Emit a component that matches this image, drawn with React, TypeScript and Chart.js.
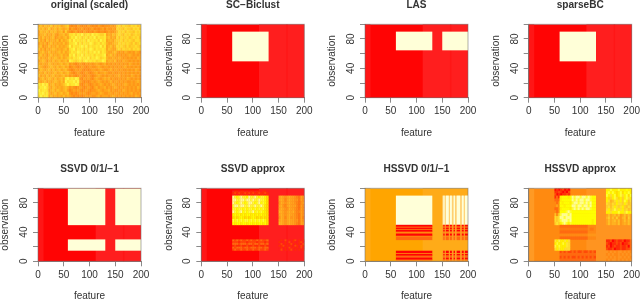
import React, { useEffect, useRef } from "react";
import { Chart, registerables } from "chart.js";

Chart.register(...registerables);

type Rect = [number, number, number, number, string];

const xTicks = [0, 50, 100, 150, 200];
const yTickLabels = [0, 40, 80];
const panelTitles = [
  "original (scaled)", "SC\u2212Biclust", "LAS", "sparseBC",
  "SSVD 0/1/\u22121", "SSVD approx", "HSSVD 0/1/\u22121", "HSSVD approx",
];

const palette: Record<string, string> = {
  "0": "#FF7810", "1": "#FF8814", "2": "#FF9618", "3": "#FFA41C", "4": "#FFB220",
  "5": "#FFC024", "6": "#FFCE28", "7": "#FFDC2C", "8": "#FFE830", "9": "#FFF440",
  r: "#FF0404", s: "#FF1616", t: "#FF1E1E", c: "#FFFFD8", o: "#FFA500", O: "#FFAB18",
  p: "#FFAA14", h: "#FFD070", W: "#FFFF90", y: "#FFFF00", Y: "#FFFF30", G: "#FFF000",
  g: "#FFDC00", a: "#FF4A08", b: "#FF2C08", d: "#FF6A10", e: "#FF8A10", E: "#FF9420",
  f: "#FF9A24",
};

const originalRows = [
  "453544635453456" + "212132121321213212" + "22323" + "675766576756",
  "545346345354345" + "132122312123121231" + "32232" + "766576657675",
  "354453545345263" + "212312132121321221" + "23223" + "576757665767",
  "344534353244534" + "778687967869787668" + "34354" + "676576756766",
  "435343452343453" + "687978678687968778" + "45343" + "757667567675",
  "534253443525345" + "869787786978786978" + "34435" + "667576765776",
  "343424534343534" + "778968687798678687" + "43345" + "576767657567",
  "452335343534345" + "968778979687787968" + "34534" + "767657566765",
  "534243454343453" + "789687868798687787" + "35433" + "675766757676",
  "345335343453534" + "687798778687979687" + "43345" + "323243232432",
  "453424534345343" + "879687968778687789" + "34534" + "232323432323",
  "534335345435345" + "768789787968798678" + "43343" + "343232323243",
  "345424353453453" + "987678689787867798" + "34435" + "232433232323",
  "434335434345345" + "232123213232343234" + "23232" + "323232432323",
  "543234543534534" + "123212321232234323" + "32323" + "232342323232",
  "354345353453453" + "212323212123323432" + "23423" + "323223232432",
  "443534345345345" + "321232123212342334" + "32232" + "232323232323",
  "534353453434534" + "232123212321234323" + "23323" + "342323243232",
  "3453454353453" + "8978798" + "2132321343234" + "34232" + "232324323232",
  "4345343454353" + "9788979" + "3212123234323" + "23423" + "323232232343",
  "87978" + "34534345" + "7978898" + "2123212323432" + "32343" + "232343232323",
  "78897" + "4354343454" + "232123212321342334" + "23234" + "323232323243",
  "97887" + "3453543453" + "123232123212234323" + "34232" + "232432323232",
  "88978" + "4345345345" + "212123232123323432" + "23323" + "323232342323",
  "79788" + "3534343534" + "321212123232234233" + "32343" + "232323232432",
];

const redBase: Rect[] = [
  [0, 200, 0, 100, "r"], [0, 10, 0, 100, "s"], [112, 200, 0, 100, "t"], [165, 167, 0, 100, "s"],
];
const orangeBase: Rect[] = [
  [0, 200, 0, 100, "o"], [0, 10, 0, 100, "O"], [112, 200, 0, 100, "O"],
];
const hssvdApproxBase: Rect[] = [
  [0, 200, 0, 100, "e"], [0, 10, 0, 100, "f"], [112, 200, 0, 100, "E"],
];

const scBlocks: Rect[] = [[60, 130, 50, 90, "c"]];
const lasBlocks: Rect[] = [[60, 130, 65, 90, "c"], [150, 200, 65, 90, "c"]];
const sparseBlocks: Rect[] = [[60, 130, 50, 90, "c"]];
const ssvdBlocks: Rect[] = [
  [58, 130, 50, 100, "c"], [150, 200, 50, 100, "c"], [58, 130, 15, 30, "c"], [150, 200, 15, 30, "c"],
];

const ssvdApproxMain = [
  "WYyYWYYyWYYWYyYYyg", "WWYYWWYWWYWYYWYYyg", "WYyYWYyYWWYyYWyYyg", "YWWYWWYYWYYWYYWYGg",
  "YYyYYyYyYYyYyYyYGg", "WYyYWyYyYYWyYyYyGg", "GyGyGyGyyGyGyGyGGg", "gGgGyGgGgGyGgGgGgg",
  "YyYyYyYYyYyYyYyYyg", "yGyyGyyGyyGyGyyGyg",
];
const ssvdApproxRight = [
  "3432343321032", "3431343322032", "2432343321023", "3421343331032", "3432243321032",
  "4432343421132", "3432343321032", "2431342321031", "3432343322032", "4432343321033",
];
const ssvdApproxLow = [
  "dadadaadadaadadaad", "aaabaaabaaaabaaaba", "dddadddaddaddaddad",
  "babbabbabbabbabbab", "dadddaddadddaddadd", "adaadaadaadaadaada",
];
const ssvdApproxLowRight = [
  "tbtatbtbatbtb", "bttbtatbttbat", "tatbtbatbtbta", "bbatbtbtabtab", "tbtbtatbtbtat", "tatbtbatbtbtb",
];
const ssvdApproxTop = ["tbbtbbtbtbbtbbtbbt", "bababbabababbabbab", "tbtbbtbbtbtbbtbbtb"];

const hssvdStripeRows: Rect[] = [
  [0, 0, 47.5, 50, "r"], [0, 0, 46, 47.5, "d"], [0, 0, 44.3, 46, "r"], [0, 0, 43, 44.3, "d"],
  [0, 0, 40.6, 43, "r"], [0, 0, 38, 40.6, "e"], [0, 0, 35, 38, "r"], [0, 0, 33.8, 35, "e"],
  [0, 0, 29.5, 33.8, "d"],
  [0, 0, 11, 14.5, "r"], [0, 0, 10, 11, "e"], [0, 0, 7.8, 10, "r"], [0, 0, 5, 7.8, "d"],
  [0, 0, 2.3, 5, "r"], [0, 0, 0, 2.3, "e"],
];
const hssvdOnColumns = [
  [152, 154], [157, 162], [165, 168], [172, 174], [178, 184], [188, 191], [194, 200],
];

const happroxTop = ["rbrbarbr", "bbabrbra", "arbrbbab"];
const happroxSide = ["bdb", "ddd", "ede", "e3e", "dde", "ede", "5e5", "767", "767", "686"];
const happroxMain = [
  "GyyyGyWYWWYWWYWYyy", "GyyyyyWYWYWWYWWYyy", "yGyyyGYWWYWWYWYWyy", "yyGyyyWWYWWYWWYWyy",
  "GyyyyGYWYWYWYWWYyy", "yyyYWYyyyyyyyyyyyy", "YWWWYWyyyyyyyyyyyy", "WWYWWWyyyyyyyyyyyy",
  "YWWWYWyyyyyyyyyyGy", "GYWYGYyyyyyyyyyyGy",
];
const happroxRightTop = [
  "GGYGGGYGGGyGG", "yYGYGgGYgyGYG", "YG7GYgGY7GYgY", "Gg6GY7gG6GY7G", "G7457G7G6YG57",
  "76576G776G756", "6757G767G6576", "7G67Y7G7G6756", "GG7GGGYGG7YGG",
];
const happroxRightMid = ["3534535235353", "4635363245263", "3534535235353", "3534435234353"];
const happroxMid = [
  "dddddddddddddd1111", "000000000000001001", "dddddddddddddd1111", "111111111111112222", "dddddddddddddd1111",
];
const happroxLow = [
  "adadaadadaadaadada", "dddddddddddddddddd", "adadadaadadadadada", "dddddddddddddddddd",
];
const happroxYellow = ["8G9GG8G7", "GYGGYG87", "9GYGGG87", "7G8GG777"];
const happroxRed = ["bbarbabbarbbd", "abrbbabarbbad", "barbabbabbard", "abbarbbabbaad"];
const happroxRightLow = ["E1E1E1EE1E1E1", "1E1E11E1E1E1E", "E1E1E1EE1E1E1", "1E1EE1E1E1E1E"];

function grid(x0: number, x1: number, y0: number, y1: number, rows: string[]): Rect[] {
  const out: Rect[] = [];
  const h = (y1 - y0) / rows.length;
  rows.forEach((row, i) => {
    const w = (x1 - x0) / row.length;
    for (let j = 0; j < row.length; j++) {
      out.push([x0 + j * w, x0 + (j + 1) * w, y1 - (i + 1) * h, y1 - i * h, row[j]]);
    }
  });
  return out;
}

function hssvdStripes(): Rect[] {
  const out: Rect[] = [[60, 130, 50, 90, "c"], [150, 200, 50, 90, "h"]];
  hssvdOnColumns.forEach(([a, b]) => out.push([a, b, 50, 90, "c"]));
  hssvdStripeRows.forEach(([, , lo, hi, c]) => {
    out.push([60, 130, lo, hi, c]);
    out.push([150, 200, lo, hi, "f"]);
    hssvdOnColumns.forEach(([a, b]) => out.push([a, b, lo, hi, c]));
  });
  return out;
}

const panelCells: Rect[][] = [
  grid(0, 200, 0, 100, originalRows),
  [...redBase, ...scBlocks],
  [...redBase, ...lasBlocks],
  [...redBase, ...sparseBlocks],
  [...redBase, ...ssvdBlocks],
  [
    ...redBase,
    ...grid(60, 130, 90, 97, ssvdApproxTop),
    ...grid(60, 130, 50, 90, ssvdApproxMain),
    ...grid(150, 200, 50, 90, ssvdApproxRight),
    ...grid(60, 130, 15, 30, ssvdApproxLow),
    ...grid(150, 200, 15, 30, ssvdApproxLowRight),
  ],
  [...orangeBase, ...hssvdStripes()],
  [
    ...hssvdApproxBase,
    ...grid(50, 80, 90, 100, happroxTop),
    ...grid(50, 60, 50, 90, happroxSide),
    ...grid(60, 130, 50, 90, happroxMain),
    ...grid(150, 200, 65, 100, happroxRightTop),
    ...grid(150, 200, 50, 65, happroxRightMid),
    ...grid(60, 130, 30, 50, happroxMid),
    ...grid(60, 130, 0, 15, happroxLow),
    ...grid(50, 80, 15, 30, happroxYellow),
    ...grid(150, 200, 15, 30, happroxRed),
    ...grid(150, 200, 0, 15, happroxRightLow),
  ],
];

const FONT = "'Liberation Sans', Arial, sans-serif";
const INK = "#333333";
const RULE = "#8a8a8a";

const cellPlugin = {
  id: "cells",
  beforeDatasetsDraw(chart: any) {
    const { ctx, chartArea: a, scales } = chart;
    ctx.save();
    ctx.beginPath();
    ctx.rect(a.left, a.top, a.right - a.left, a.bottom - a.top);
    ctx.clip();
    for (const d of chart.data.datasets[0].data) {
      const x0 = scales.x.getPixelForValue(d.x);
      const x1 = scales.x.getPixelForValue(d.x2);
      const y1 = scales.y.getPixelForValue(d.y);
      const y0 = scales.y.getPixelForValue(d.y2);
      ctx.fillStyle = d.color;
      ctx.fillRect(x0, y0, x1 - x0 + 0.35, y1 - y0 + 0.35);
    }
    ctx.restore();
  },
  afterDatasetsDraw(chart: any) {
    const { ctx, chartArea: a } = chart;
    ctx.save();
    ctx.strokeStyle = "rgba(110,110,110,0.55)";
    ctx.lineWidth = 1;
    ctx.strokeRect(a.left, a.top, a.right - a.left, a.bottom - a.top);
    ctx.restore();
  },
};

const canvasLefts = [0, 163, 327, 491];
const plotLefts = [38, 201.3, 365, 528.7];
const rowTops = [0, 150];
const plotTops = [24.3, 38.3];
const plotBottoms = [97.7, 111.3];
const titleCentres = [5.6, 18.8];
const axisBottomGaps = [15, 2];
const CANVAS_W = 150;
const CANVAS_H = 154;
const Y_AXIS_W = 37;
const PLOT_W = 103;

function Panel({ index }: { index: number }) {
  const ref = useRef<HTMLCanvasElement>(null);
  const col = index % 4;
  const row = index < 4 ? 0 : 1;
  useEffect(() => {
    const titleH = 12;
    const chart = new Chart(ref.current as HTMLCanvasElement, {
      type: "scatter",
      data: {
        datasets: [{
          data: panelCells[index].map(([x, x2, y, y2, c]) => ({ x, x2, y, y2, color: palette[c] })) as any,
          pointRadius: 0,
          showLine: false,
        }],
      },
      options: {
        animation: false,
        responsive: false,
        layout: {
          padding: {
            left: plotLefts[col] - canvasLefts[col] - Y_AXIS_W,
            right: CANVAS_W - (plotLefts[col] - canvasLefts[col]) - PLOT_W,
            top: 0,
            bottom: 0,
          },
        },
        plugins: {
          legend: { display: false },
          tooltip: { enabled: false },
          title: {
            display: true,
            text: panelTitles[index],
            fullSize: false,
            color: INK,
            font: { family: FONT, size: 10.1, weight: "bold", lineHeight: titleH / 10.1 },
            padding: {
              top: titleCentres[row] - titleH / 2,
              bottom: plotTops[row] - titleCentres[row] - titleH / 2,
            },
          },
        },
        scales: {
          x: {
            type: "linear",
            min: 0,
            max: 200,
            afterBuildTicks: (s: any) => { s.ticks = xTicks.map((value) => ({ value })); },
            afterFit: (s: any) => { s.height = CANVAS_H - plotBottoms[row]; s.paddingLeft = 0; s.paddingRight = 0; },
            grid: { drawOnChartArea: false, drawTicks: true, tickLength: 5, color: RULE },
            border: { color: RULE },
            ticks: { color: INK, font: { family: FONT, size: 10 }, padding: 3, maxRotation: 0, autoSkip: false },
            title: {
              display: true,
              text: "feature",
              color: INK,
              font: { family: FONT, size: 10 },
              padding: { top: 0, bottom: axisBottomGaps[row] },
            },
          },
          y: {
            type: "linear",
            min: 0,
            max: 100,
            afterBuildTicks: (s: any) => { s.ticks = [0, 20, 40, 60, 80, 100].map((value) => ({ value })); },
            afterFit: (s: any) => { s.width = Y_AXIS_W; s.paddingTop = 0; s.paddingBottom = 0; },
            grid: { drawOnChartArea: false, drawTicks: true, tickLength: 5, color: RULE },
            border: { color: RULE },
            ticks: {
              color: INK,
              font: { family: FONT, size: 10 },
              padding: 3,
              minRotation: 90,
              maxRotation: 90,
              crossAlign: "center",
              autoSkip: false,
              callback: (v: any) => (yTickLabels.includes(Number(v)) ? String(v) : ""),
            },
            title: {
              display: true,
              text: "observation",
              color: INK,
              font: { family: FONT, size: 10 },
              padding: { top: -1.5, bottom: 0 },
            },
          },
        },
      } as any,
      plugins: [cellPlugin],
    });
    return () => chart.destroy();
  }, [index, col, row]);
  return (
    <canvas
      ref={ref}
      width={CANVAS_W}
      height={CANVAS_H}
      style={{
        position: "absolute",
        left: canvasLefts[col],
        top: rowTops[row],
        width: CANVAS_W,
        height: CANVAS_H,
        filter: "blur(0.35px)",
      }}
    />
  );
}

export default function App() {
  return (
    <div style={{ position: "fixed", left: 0, top: 0, width: 640, height: 300, background: "#fff", overflow: "hidden" }}>
      {panelTitles.map((_, i) => <Panel key={i} index={i} />)}
    </div>
  );
}
